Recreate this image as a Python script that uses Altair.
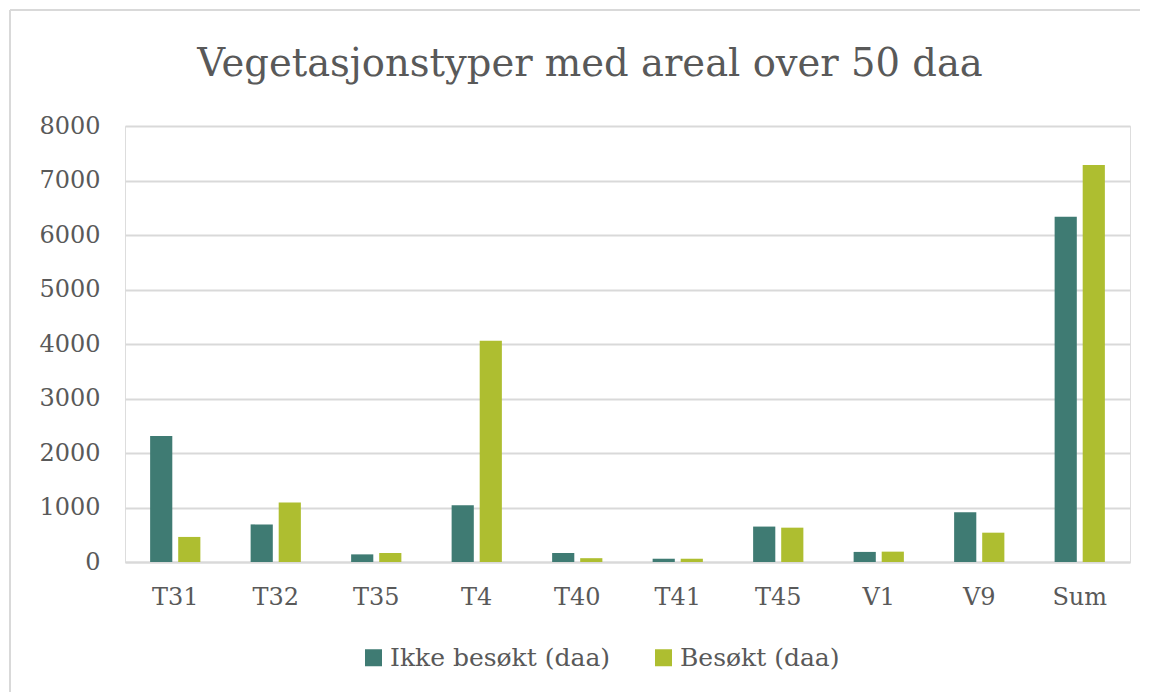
import altair as alt
import pandas as pd

categories = ["T31", "T32", "T35", "T4", "T40", "T41", "T45", "V1", "V9", "Sum"]
ikke_besokt = [2310, 690, 140, 1040, 165, 60, 650, 185, 912, 6335]
besokt = [460, 1090, 165, 4060, 70, 60, 630, 190, 538, 7285]
series_names = ["Ikke besøkt (daa)", "Besøkt (daa)"]
series_colors = ["#3F7B73", "#AEBE30"]
y_ticks = [0, 1000, 2000, 3000, 4000, 5000, 6000, 7000, 8000]
title_text = "Vegetasjonstyper med areal over 50 daa"

rows = []
for c, a, b in zip(categories, ikke_besokt, besokt):
    rows.append({"kategori": c, "serie": series_names[0], "verdi": a})
    rows.append({"kategori": c, "serie": series_names[1], "verdi": b})
df = pd.DataFrame(rows)

FONT = "DejaVu Serif"
TXT = "#595959"
GRID = "#D9D9D9"

bars = alt.Chart(df).mark_bar().encode(
    x=alt.X("kategori:N", sort=categories,
            scale=alt.Scale(paddingInner=0.5, paddingOuter=0.25),
            axis=alt.Axis(title=None, labelAngle=0, labelFont=FONT, labelFontSize=24,
                          labelColor=TXT, labelPadding=23, ticks=False, domain=True,
                          domainColor=GRID, domainWidth=2, grid=False)),
    xOffset=alt.XOffset("serie:N", sort=series_names,
                        scale=alt.Scale(paddingInner=0.21, paddingOuter=0)),
    y=alt.Y("verdi:Q", scale=alt.Scale(domain=[0, 8000], nice=False),
            axis=alt.Axis(title=None, values=y_ticks, labelFont=FONT, labelFontSize=24,
                          labelColor=TXT, labelPadding=25, ticks=False, domain=False,
                          gridColor=GRID, gridWidth=2, format="d")),
    color=alt.Color("serie:N", sort=series_names,
                    scale=alt.Scale(domain=series_names, range=series_colors),
                    legend=alt.Legend(title=None, orient="none", direction="horizontal",
                                      legendX=236, legendY=519, labelFont=FONT,
                                      labelFontSize=25, labelColor=TXT, symbolType="square",
                                      symbolSize=289, symbolStrokeWidth=0, labelLimit=0,
                                      columnPadding=40, labelOffset=4)),
)

single = alt.Data(values=[{"t": title_text}])
title_mark = alt.Chart(single).mark_text(
    font=FONT, fontSize=38.5, color=TXT, align="center", baseline="alphabetic", clip=False
).encode(text="t:N", x=alt.value(465), y=alt.value(-50))

top_line = alt.Chart(single).mark_rule(color=GRID, strokeWidth=2, clip=False).encode(
    x=alt.value(-115), x2=alt.value(1050), y=alt.value(-116))
left_line = alt.Chart(single).mark_rule(color=GRID, strokeWidth=2, clip=False).encode(
    x=alt.value(-115), y=alt.value(-116), y2=alt.value(580))

chart = alt.layer(bars, title_mark, top_line, left_line).properties(
    width=1005, height=436,
    padding={"left": 117, "top": 118, "right": 10, "bottom": 130},
    autosize=alt.AutoSizeParams(type="none"),
).configure_view(stroke=None).configure(background="white")

chart.save("out.html", embed_options={"renderer": "svg", "actions": False})
